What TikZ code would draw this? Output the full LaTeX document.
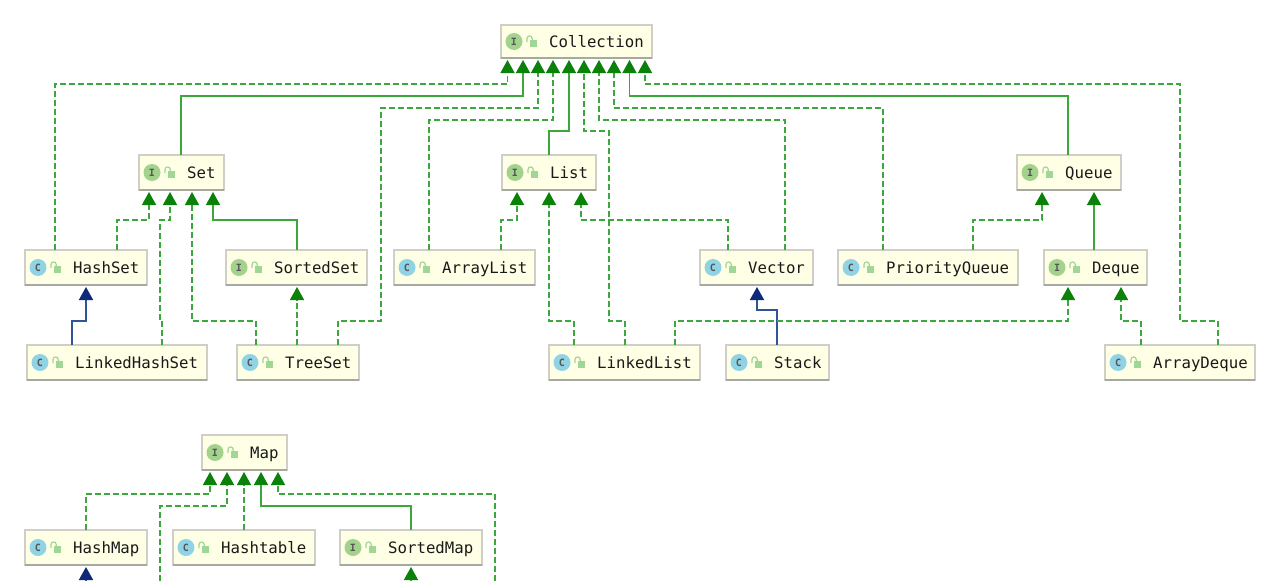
\documentclass[tikz,border=0pt]{standalone}
\usepackage{fontspec}
\setmonofont{DejaVu Sans Mono}
\usetikzlibrary{arrows.meta,calc}
\definecolor{boxfill}{HTML}{FFFFE6}
\definecolor{boxedge}{HTML}{CFCFC8}
\definecolor{boxshadow}{HTML}{A8A8A2}
\definecolor{linkgreen}{HTML}{3CA83C}
\definecolor{tipgreen}{HTML}{0A820A}
\definecolor{linknavy}{HTML}{2F5597}
\definecolor{tipnavy}{HTML}{0F2A78}
\definecolor{iface}{HTML}{A3D28C}
\definecolor{cls}{HTML}{8FD3E4}
\definecolor{lockc}{HTML}{A0D696}
\definecolor{iconink}{HTML}{55555A}
\tikzset{
  umlbox/.style={draw=boxedge,fill=boxfill,line width=1.2pt,inner sep=0pt,outer sep=0pt,rectangle},
  umllabel/.style={anchor=base west,inner sep=0pt,font=\ttfamily\fontsize{15.7}{18}\selectfont,text=black!90},
  icondisc/.style={circle,minimum size=17pt,inner sep=0pt,font=\ttfamily\bfseries\fontsize{10}{11}\selectfont,text=iconink},
  impl/.style={draw=linkgreen,line width=1.5pt,dash pattern=on 6pt off 3pt,-{Triangle[length=13pt,width=14pt,color=tipgreen]},shorten >=2pt},
  ext/.style={draw=linkgreen,line width=1.4pt,-{Triangle[length=13pt,width=14pt,color=tipgreen]},shorten >=2pt},
  extc/.style={draw=linknavy,line width=1.7pt,-{Triangle[length=13pt,width=14pt,color=tipnavy]},shorten >=2pt}
}
% name, left, top, right, bottom, icon colour, icon letter, text
\newcommand{\umlnode}[8]{%
  \node[umlbox,minimum width={(#4-#2)*1pt},minimum height={(#5-#3)*1pt}] (#1) at ({(#2+#4)/2},{(#3+#5)/2}) {};
  \draw[boxshadow,line width=1.2pt] (#1.south west) -- (#1.south east);
  \node[icondisc,fill=#6] (#1-icon) at ({#2+13},{(#3+#5)/2}) {#7};
  \begin{scope}[shift={({#2+31},{(#3+#5)/2})}]
    \fill[lockc] (-2,-1.5) rectangle (5,5);
    \draw[lockc,line width=1.2pt] (-5,0.5) -- (-5,-3) arc[start angle=180,end angle=360,radius=2.6] -- (0.2,-1.5);
  \end{scope}
  \node[umllabel] (#1-label) at ({#2+48},{(#3+#5)/2+5.5}) {#8};
}
% style, source node, source x, target node, target x, middle of path
\newcommand{\conn}[6]{%
  \coordinate (sx) at (#3,0);
  \coordinate (tx) at (#5,0);
  \draw[#1] (#2.north -| sx) #6 -- (#4.south -| tx);
}
\begin{document}
\begin{tikzpicture}[x=1pt,y=-1pt]
\useasboundingbox (0,0) rectangle (1280,581);
\fill[white] (0,0) rectangle (1280,581);
\umlnode{Collection}{501}{25}{652}{58}{iface}{I}{Collection}
\umlnode{Set}{139}{155}{224}{190}{iface}{I}{Set}
\umlnode{List}{502}{155}{596}{190}{iface}{I}{List}
\umlnode{Queue}{1017}{155}{1121}{190}{iface}{I}{Queue}
\umlnode{HashSet}{25}{250}{147}{285}{cls}{C}{HashSet}
\umlnode{SortedSet}{226}{250}{367}{285}{iface}{I}{SortedSet}
\umlnode{ArrayList}{394}{250}{535}{285}{cls}{C}{ArrayList}
\umlnode{Vector}{700}{250}{813}{285}{cls}{C}{Vector}
\umlnode{PriorityQueue}{838}{250}{1018}{285}{cls}{C}{PriorityQueue}
\umlnode{Deque}{1044}{250}{1147}{285}{iface}{I}{Deque}
\umlnode{LinkedHashSet}{27}{345}{207}{380}{cls}{C}{LinkedHashSet}
\umlnode{TreeSet}{237}{345}{359}{380}{cls}{C}{TreeSet}
\umlnode{LinkedList}{549}{345}{700}{380}{cls}{C}{LinkedList}
\umlnode{Stack}{726}{345}{829}{380}{cls}{C}{Stack}
\umlnode{ArrayDeque}{1105}{345}{1255}{380}{cls}{C}{ArrayDeque}
\umlnode{Map}{202}{435}{287}{470}{iface}{I}{Map}
\umlnode{HashMap}{25}{530}{147}{565}{cls}{C}{HashMap}
\umlnode{Hashtable}{173}{530}{315}{565}{cls}{C}{Hashtable}
\umlnode{SortedMap}{340}{530}{482}{565}{iface}{I}{SortedMap}
% to Collection
\conn{impl}{HashSet}{55}{Collection}{507.5}{-- (55,84) -- (507.5,84)}
\conn{ext}{Set}{181}{Collection}{523}{-- (181,96) -- (523,96)}
\conn{impl}{TreeSet}{338}{Collection}{538}{-- (338,321) -- (381,321) -- (381,108) -- (538,108)}
\conn{impl}{ArrayList}{429}{Collection}{553}{-- (429,120) -- (553,120)}
\conn{ext}{List}{549}{Collection}{569}{-- (549,131) -- (569,131)}
\conn{impl}{LinkedList}{625}{Collection}{584}{-- (625,321) -- (609,321) -- (609,131) -- (584,131)}
\conn{impl}{Vector}{785}{Collection}{599}{-- (785,120) -- (599,120)}
\conn{impl}{PriorityQueue}{883}{Collection}{614}{-- (883,108) -- (614,108)}
\conn{ext}{Queue}{1068}{Collection}{629.5}{-- (1068,96) -- (629.5,96)}
\conn{impl}{ArrayDeque}{1218}{Collection}{645}{-- (1218,321) -- (1180,321) -- (1180,84) -- (645,84)}
% to Set
\conn{impl}{HashSet}{117}{Set}{149}{-- (117,220) -- (149,220)}
\conn{impl}{LinkedHashSet}{162}{Set}{170}{-- (162,322) -- (160,322) -- (160,220) -- (170,220)}
\conn{impl}{TreeSet}{256}{Set}{192}{-- (256,321) -- (192,321)}
\conn{ext}{SortedSet}{297}{Set}{213}{-- (297,220) -- (213,220)}
\conn{impl}{TreeSet}{297}{SortedSet}{297}{}
\conn{extc}{LinkedHashSet}{72}{HashSet}{86}{-- (72,321) -- (86,321)}
% to List
\conn{impl}{ArrayList}{501}{List}{517}{-- (501,220) -- (517,220)}
\conn{impl}{LinkedList}{574}{List}{549}{-- (574,321) -- (549,321)}
\conn{impl}{Vector}{728}{List}{581}{-- (728,220) -- (581,220)}
\conn{extc}{Stack}{777}{Vector}{757}{-- (777,310) -- (757,310)}
% to Queue and Deque
\conn{impl}{PriorityQueue}{973}{Queue}{1042}{-- (973,220) -- (1042,220)}
\conn{ext}{Deque}{1094}{Queue}{1094}{}
\conn{impl}{LinkedList}{675}{Deque}{1068}{-- (675,321) -- (1068,321)}
\conn{impl}{ArrayDeque}{1141}{Deque}{1121}{-- (1141,321) -- (1121,321)}
% to Map
\coordinate (freeA) at (160,590);
\coordinate (freeB) at (495,590);
\coordinate (freeC) at (86,590);
\coordinate (freeD) at (411,590);
\conn{impl}{HashMap}{86}{Map}{210}{-- (86,494) -- (210,494)}
\coordinate (tx) at (227,0);
\draw[impl] (freeA) -- (160,506) -- (227,506) -- (Map.south -| tx);
\conn{impl}{Hashtable}{244}{Map}{244}{}
\conn{ext}{SortedMap}{411}{Map}{261}{-- (411,506) -- (261,506)}
\coordinate (tx) at (278,0);
\draw[impl] (freeB) -- (495,494) -- (278,494) -- (Map.south -| tx);
\coordinate (tx) at (86,0);
\draw[extc] (freeC) -- (HashMap.south -| tx);
\coordinate (tx) at (411,0);
\draw[ext] (freeD) -- (SortedMap.south -| tx);
\end{tikzpicture}
\end{document}
